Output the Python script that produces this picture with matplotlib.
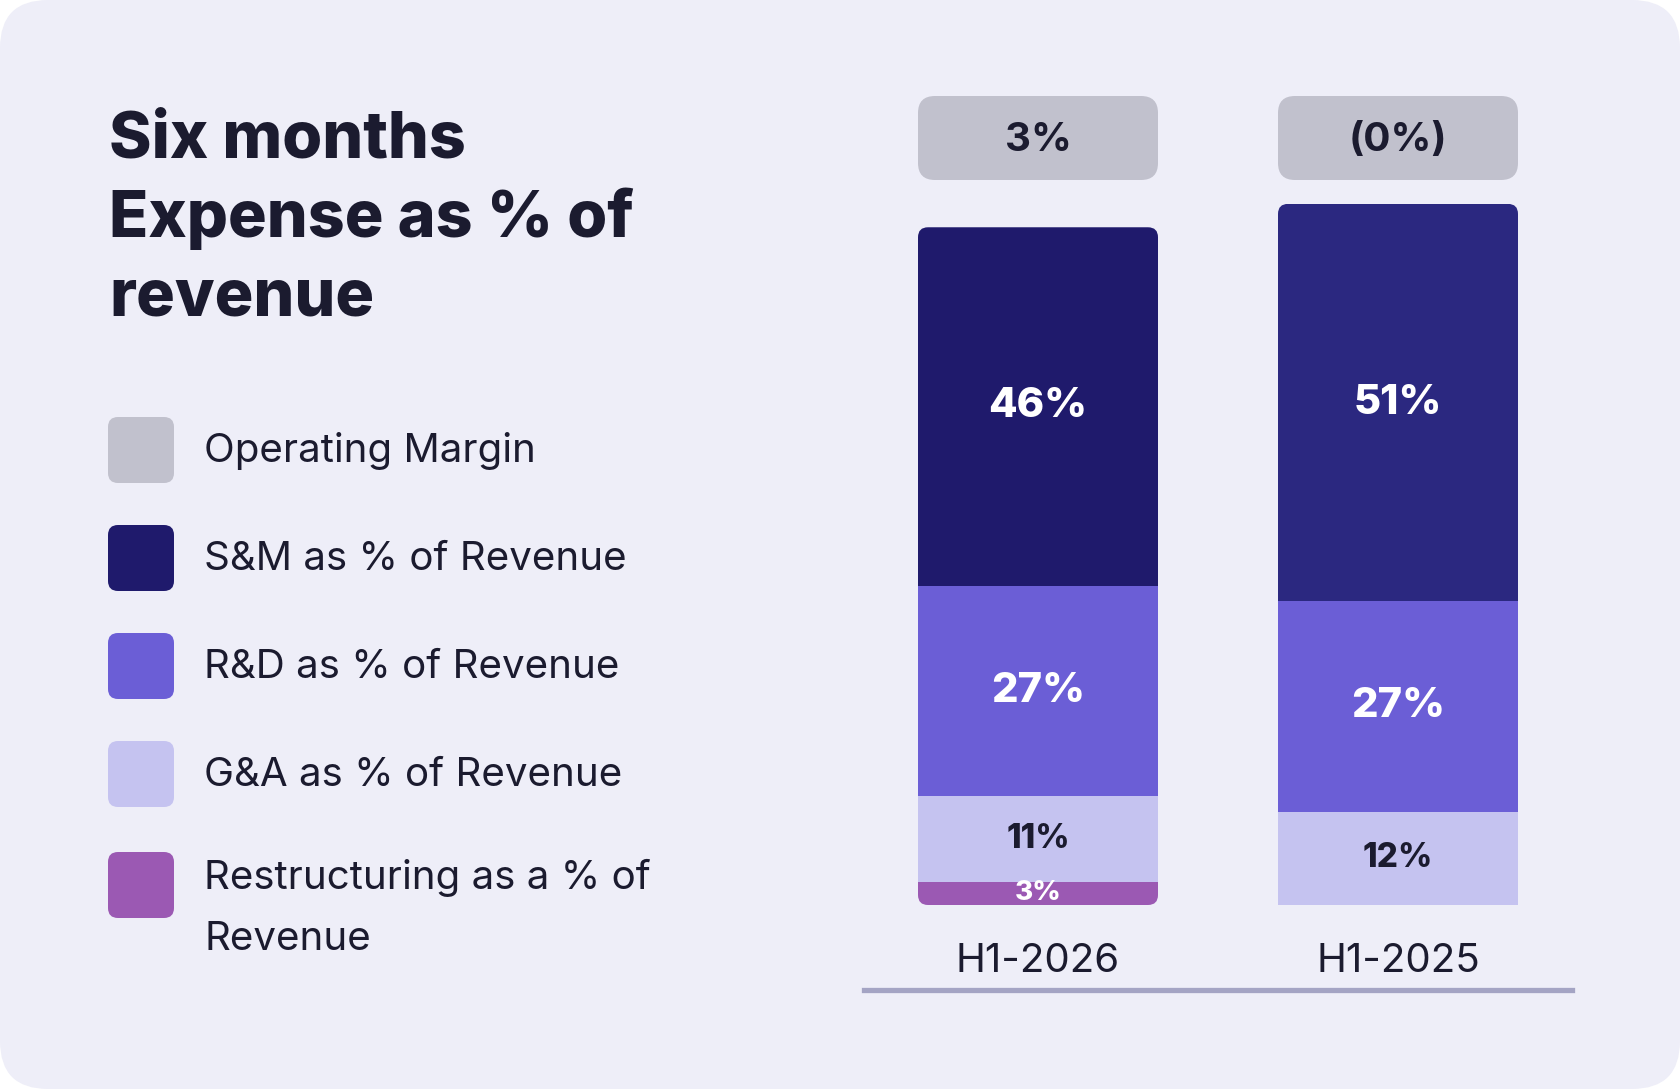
import matplotlib
matplotlib.use("Agg")
import matplotlib.pyplot as plt
from matplotlib.patches import FancyBboxPatch
from matplotlib.transforms import Affine2D
import numpy as np

# ---------------- data ----------------
categories = ["H1-2026", "H1-2025"]
operating_margin = ["3%", "(0%)"]
restructuring = [3, 0]
g_and_a = [11, 12]
r_and_d = [27, 27]
s_and_m = [46, 51]

legend_labels = ["Operating Margin", "S&M as % of Revenue", "R&D as % of Revenue",
                 "G&A as % of Revenue", "Restructuring as a % of\nRevenue"]
title_lines = ["Six months", "Expense as % of", "revenue"]

# ---------------- style ----------------
W, H, DPI = 1680, 1089, 100
BG = "#EEEEF8"
TXT = "#1B1B2F"
C_OM = "#C1C1CD"
C_SM = ["#1F1A6C", "#2B2880"]
C_RD = "#6B5ED6"
C_GA = "#C5C3F0"
C_RS = "#9B59B3"
AXIS = "#A4A4C4"
FONT = "Inter"

fig = plt.figure(figsize=(W / DPI, H / DPI), dpi=DPI, facecolor="white")
# pixel coordinates measured from the top-left corner
px = Affine2D().scale(1 / DPI, -1 / DPI).translate(0, H / DPI) + fig.dpi_scale_trans

# card background
fig.patches.append(FancyBboxPatch((0, 0), W, H, boxstyle="round,pad=0,rounding_size=48",
                                  transform=px, facecolor=BG, edgecolor="none", zorder=-10))

# title
title_baselines = [158, 237, 316]
for line, yb in zip(title_lines, title_baselines):
    fig.text(109, yb, line, transform=px, fontsize=46.5, fontweight="heavy", color=TXT,
             family=FONT, ha="left", va="baseline")

# legend
leg_colors = [C_OM, C_SM[0], C_RD, C_GA, C_RS]
leg_centers = [450, 558, 666, 774, 885]
for lab, col, cy in zip(legend_labels, leg_colors, leg_centers):
    fig.patches.append(FancyBboxPatch((108, cy - 33), 66, 66,
                                      boxstyle="round,pad=0,rounding_size=10",
                                      transform=px, facecolor=col, edgecolor="none",
                                      zorder=-5))
    lines = lab.split("\n")
    if len(lines) == 1:
        fig.text(204, cy + 12.5, lines[0], transform=px, fontsize=29, color=TXT,
                 family=FONT, ha="left", va="baseline")
    else:
        for i, ln in enumerate(lines):
            fig.text(204, cy + 4 + 61 * i, ln, transform=px, fontsize=29, color=TXT,
                     family=FONT, ha="left", va="baseline")

# ---------------- bars ----------------
PXPCT = 7.79           # pixels per percentage point
AX_L, AX_R = 864, 1572
AX_BOTTOM, ZERO_Y, AX_TOP = 990, 905, 80
ax = fig.add_axes([AX_L / W, (H - AX_BOTTOM) / H, (AX_R - AX_L) / W, (AX_BOTTOM - AX_TOP) / H])
ax.set_facecolor("none")
x = np.arange(len(categories))
SPACING = 360.0
bar_w = 240 / SPACING
ax.set_xlim(-(1038 - AX_L) / SPACING, len(categories) - 1 + (AX_R - 1398) / SPACING)
ax.set_ylim(-(AX_BOTTOM - ZERO_Y) / PXPCT, (ZERO_Y - AX_TOP) / PXPCT)
for s in ["top", "left", "right"]:
    ax.spines[s].set_visible(False)
ax.spines["bottom"].set_color(AXIS)
ax.spines["bottom"].set_linewidth(3.8)
ax.set_xticks([])
ax.set_yticks([])

aspect = SPACING / PXPCT
r_bar = 10 / SPACING

rs = np.array(restructuring, float)
ga = np.array(g_and_a, float)
rd = np.array(r_and_d, float)
sm = np.array(s_and_m, float)

b_rs = ax.bar(x, rs, bar_w, color=C_RS, linewidth=0)
b_ga = ax.bar(x, ga, bar_w, bottom=rs, color=C_GA, linewidth=0)
b_rd = ax.bar(x, rd, bar_w, bottom=rs + ga, color=C_RD, linewidth=0)
b_sm = ax.bar(x, sm, bar_w, bottom=rs + ga + rd, color=C_SM, linewidth=0)

# round the outer corners of each stack
for i in range(len(x)):
    base = rs[i] + ga[i] + rd[i]
    clip_top = FancyBboxPatch((x[i] - bar_w / 2, base - 5), bar_w, sm[i] + 5,
                              boxstyle=f"round,pad=0,rounding_size={r_bar}",
                              mutation_aspect=aspect, transform=ax.transData,
                              facecolor="none", edgecolor="none")
    b_sm[i].set_clip_path(clip_top)
    if rs[i] > 0:
        clip_bot = FancyBboxPatch((x[i] - bar_w / 2, 0), bar_w, rs[i] + 5,
                                  boxstyle=f"round,pad=0,rounding_size={r_bar}",
                                  mutation_aspect=aspect, transform=ax.transData,
                                  facecolor="none", edgecolor="none")
        b_rs[i].set_clip_path(clip_bot)

# segment labels
def seg_labels(vals, bottoms, color, size):
    for xi, v, b in zip(x, vals, bottoms):
        if v > 0:
            ax.text(xi, b + v / 2, f"{v:.0f}%", ha="center", va="center", color=color,
                    fontsize=size, fontweight="heavy", family=FONT)

seg_labels(rs, np.zeros_like(rs), "white", 20)
seg_labels(ga, rs, TXT, 24)
seg_labels(rd, rs + ga, "white", 30)
seg_labels(sm, rs + ga + rd, "white", 30)

# operating margin boxes
om_lo = (ZERO_Y - 180) / PXPCT
om_hi = (ZERO_Y - 96) / PXPCT
for xi, lab in zip(x, operating_margin):
    ax.add_patch(FancyBboxPatch((xi - bar_w / 2, om_lo), bar_w, om_hi - om_lo,
                                boxstyle=f"round,pad=0,rounding_size={17 / SPACING}",
                                mutation_aspect=aspect, facecolor=C_OM, edgecolor="none",
                                clip_on=False))
    ax.text(xi, (om_lo + om_hi) / 2 - 0.35, lab, ha="center", va="center", color=TXT,
            fontsize=29, fontweight="bold", family=FONT)

# category labels
cat_y = -(961 - ZERO_Y) / PXPCT
for xi, c in zip(x, categories):
    ax.text(xi, cat_y, c, ha="center", va="center", color=TXT, fontsize=29, family=FONT)

fig.savefig("out.png", dpi=DPI, facecolor="white")
